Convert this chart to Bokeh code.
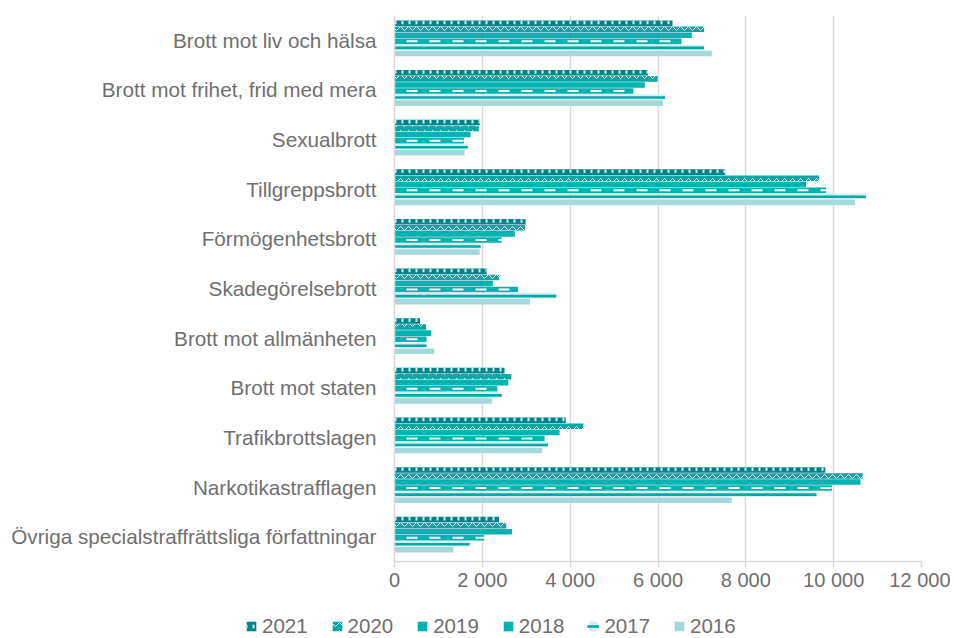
from bokeh.plotting import figure
from bokeh.layouts import column
from bokeh.models import ColumnDataSource, FactorRange, FixedTicker, Legend, LegendItem
from bokeh.transform import dodge
from bokeh.embed import file_html
from bokeh.resources import INLINE

categories = [
    "Brott mot liv och hälsa",
    "Brott mot frihet, frid med mera",
    "Sexualbrott",
    "Tillgreppsbrott",
    "Förmögenhetsbrott",
    "Skadegörelsebrott",
    "Brott mot allmänheten",
    "Brott mot staten",
    "Trafikbrottslagen",
    "Narkotikastrafflagen",
    "Övriga specialstraffrättsliga författningar",
]
years = ["2021", "2020", "2019", "2018", "2017", "2016"]
v2021 = [6330, 5770, 1945, 7530, 2985, 2100, 580, 2505, 3900, 9810, 2380]
v2020 = [7050, 5990, 1920, 9670, 2970, 2380, 720, 2660, 4300, 10660, 2545]
v2019 = [6770, 5700, 1730, 9370, 2740, 2240, 835, 2590, 3760, 10610, 2675]
v2018 = [6535, 5440, 1580, 9825, 2440, 2810, 730, 2340, 3420, 9960, 2040]
v2017 = [7050, 6160, 1670, 10735, 1960, 3685, 730, 2440, 3495, 9610, 1710]
v2016 = [7225, 6110, 1595, 10485, 1940, 3085, 905, 2225, 3365, 7680, 1340]
tick_values = [0, 2000, 4000, 6000, 8000, 10000, 12000]
tick_labels = ["0", "2 000", "4 000", "6 000", "8 000", "10 000", "12 000"]

series = [v2021, v2020, v2019, v2018, v2017, v2016]
data = {"cat": categories}
for y, v in zip(years, series):
    data["y" + y] = v
source = ColumnDataSource(data)

FONT = "Liberation Sans"
TXT = "#6f6f6f"
GRID = "#d9d9d9"

DARK = "#00838a"
TEAL = "#00a8a8"
MID = "#00b2b0"
LIGHT = "#d3efef"
PALE = "#a3d9db"

step = 0.122
hgt = 0.112
offs = [0.04 + (2.5 - i) * step for i in range(6)]


def draw_series(fig, src, yspec, rspec):
    out = []
    # 2021
    o = offs[0]
    r = fig.hbar(y=yspec(o), left=0, right=rspec("2021"), height=hgt,
                 source=src, fill_color=DARK, line_color=None)
    s = fig.segment(x0=0, y0=yspec(o + 0.016), x1=rspec("2021"), y1=yspec(o + 0.016),
                    source=src, line_color="#cfeeee", line_width=3.5, line_dash="2 5")
    out.append([r, s])
    # 2020
    o = offs[1]
    r = fig.hbar(y=yspec(o), left=0, right=rspec("2020"), height=hgt,
                 source=src, fill_color=TEAL, line_color=None,
                 hatch_pattern="horizontal_wave", hatch_color="white",
                 hatch_scale=8, hatch_weight=1)
    out.append([r])
    # 2019
    o = offs[2]
    r = fig.hbar(y=yspec(o), left=0, right=rspec("2019"), height=hgt,
                 source=src, fill_color=MID, line_color=None)
    out.append([r])
    # 2018
    o = offs[3]
    r = fig.hbar(y=yspec(o), left=0, right=rspec("2018"), height=hgt,
                 source=src, fill_color=MID, line_color=None)
    s = fig.segment(x0=0, y0=yspec(o), x1=rspec("2018"), y1=yspec(o), source=src,
                    line_color="white", line_width=2, line_dash="11 12",
                    line_dash_offset=11)
    out.append([r, s])
    # 2017
    o = offs[4]
    r = fig.hbar(y=yspec(o), left=0, right=rspec("2017"), height=hgt,
                 source=src, fill_color=LIGHT, line_color=None)
    s = fig.segment(x0=0, y0=yspec(o - 0.01), x1=rspec("2017"), y1=yspec(o - 0.01),
                    source=src, line_color="#00aaa8", line_width=2.6)
    out.append([r, s])
    # 2016
    o = offs[5]
    r = fig.hbar(y=yspec(o), left=0, right=rspec("2016"), height=hgt,
                 source=src, fill_color=PALE, line_color=None)
    out.append([r])
    return out


p = figure(
    width=950, height=615,
    y_range=FactorRange(factors=categories[::-1]),
    x_range=(0, 12000),
    output_backend="svg", toolbar_location=None,
    min_border_left=394, min_border_top=15, min_border_right=29, min_border_bottom=54,
)
p.frame_align = False
draw_series(p, source, lambda o: dodge("cat", o, range=p.y_range), lambda y: "y" + y)

p.xaxis.ticker = FixedTicker(ticks=tick_values)
p.xaxis.major_label_overrides = {v: l for v, l in zip(tick_values, tick_labels)}
p.xaxis.axis_line_color = GRID
p.xaxis.axis_line_width = 1.5
p.xaxis.major_tick_line_color = GRID
p.xaxis.major_tick_line_width = 1.5
p.xaxis.major_tick_out = 6
p.xaxis.major_tick_in = 0
p.xaxis.minor_tick_line_color = None
p.xaxis.major_label_standoff = 1
p.xaxis.major_label_text_font_size = "20px"
p.xaxis.major_label_text_color = TXT
p.xaxis.major_label_text_font = FONT

p.yaxis.axis_line_color = GRID
p.yaxis.axis_line_width = 1.5
p.yaxis.major_tick_line_color = None
p.yaxis.major_tick_out = 0
p.yaxis.major_tick_in = 0
p.yaxis.major_label_standoff = 18
p.yaxis.major_label_text_font_size = "20.7px"
p.yaxis.major_label_text_color = TXT
p.yaxis.major_label_text_font = FONT

p.ygrid.grid_line_color = None
p.xgrid.grid_line_color = GRID
p.xgrid.grid_line_width = 1.5
p.outline_line_color = None

# legend strip below the chart (its glyphs sit outside the visible range)
lg = figure(width=950, height=23, x_range=(0, 1), y_range=(0, 1),
            output_backend="svg", toolbar_location=None,
            min_border_left=0, min_border_right=0, min_border_top=0, min_border_bottom=0)
lg.frame_align = False
lg.axis.visible = False
lg.grid.grid_line_color = None
lg.outline_line_color = None
hidden = ColumnDataSource(dict(yy=[-10], r=[-5]))
leg_rs = draw_series(lg, hidden, lambda o: "yy", lambda y: "r")
items = [LegendItem(label=y, renderers=rs) for y, rs in zip(years, leg_rs)]
legend = Legend(items=items, orientation="horizontal", location=(245, 0),
                glyph_width=12, glyph_height=12, label_standoff=5, spacing=23,
                label_text_font_size="20.5px", label_text_color=TXT, label_text_font=FONT,
                border_line_color=None, background_fill_alpha=0, padding=0, margin=0,
                label_height=22)
lg.add_layout(legend)

layout = column(p, lg, spacing=0)
open("out.html", "w").write(file_html(layout, INLINE))
